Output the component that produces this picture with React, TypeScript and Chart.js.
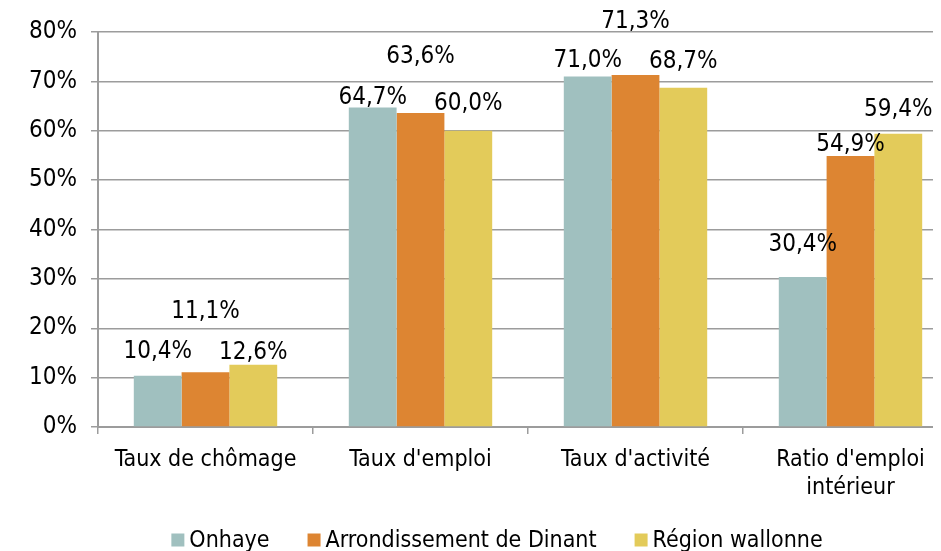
import React, { useEffect, useRef } from "react";
import { Chart, registerables } from "chart.js";

Chart.register(...registerables);

// ---- data ----
const categories: (string | string[])[] = [
  "Taux de chômage",
  "Taux d'emploi",
  "Taux d'activité",
  ["Ratio d'emploi", "intérieur"],
];
const seriesNames = ["Onhaye", "Arrondissement de Dinant", "Région wallonne"];
const onhaye = [10.4, 64.7, 71.0, 30.4];
const dinant = [11.1, 63.6, 71.3, 54.9];
const wallonie = [12.6, 60.0, 68.7, 59.4];
const yTickValues = [0, 10, 20, 30, 40, 50, 60, 70, 80];

// ---- style ----
const colors = ["#A0C0BF", "#DD8532", "#E3CB5A"];
// how far above each bar top the value label is centred (per series, per category)
const labelLift = [
  [24, 10, 16, 32],
  [60, 56, 53, 11],
  [12, 27, 26, 24],
];
const FONT = '"DejaVu Sans Condensed", "DejaVu Sans", sans-serif';
const TEXT = "#000000";
const GRID = "#9c9c9c";
const CANVAS_W = 960;
const CANVAS_H = 543;
const LEGEND_CX = 489;
const LEGEND_CY = 532;

const fmt = (v: number) => v.toFixed(1).replace(".", ",") + "%";

const valueLabelPlugin = {
  id: "valueLabels",
  afterDatasetsDraw(chart: any) {
    const ctx = chart.ctx;
    ctx.save();
    ctx.font = `24px ${FONT}`;
    ctx.fillStyle = TEXT;
    ctx.textAlign = "center";
    ctx.textBaseline = "middle";
    chart.data.datasets.forEach((ds: any, di: number) => {
      const meta = chart.getDatasetMeta(di);
      meta.data.forEach((el: any, i: number) => {
        ctx.fillText(fmt(ds.data[i]), el.x, el.y - labelLift[di][i]);
      });
    });
    ctx.restore();
  },
};

const legendPlugin = {
  id: "customLegend",
  afterDraw(chart: any) {
    const ctx = chart.ctx;
    ctx.save();
    ctx.font = `23px ${FONT}`;
    ctx.textBaseline = "middle";
    ctx.textAlign = "left";
    const box = 13;
    const gap = 5;
    const itemGap = 38;
    const widths = seriesNames.map((n) => ctx.measureText(n).width);
    const total =
      widths.reduce((a, w) => a + box + gap + w, 0) + itemGap * (seriesNames.length - 1);
    let x = LEGEND_CX - total / 2;
    seriesNames.forEach((n, i) => {
      ctx.fillStyle = colors[i];
      ctx.fillRect(x, LEGEND_CY - box / 2, box, box);
      ctx.fillStyle = TEXT;
      ctx.fillText(n, x + box + gap, LEGEND_CY + 1);
      x += box + gap + widths[i] + itemGap;
    });
    ctx.restore();
  },
};

export default function App() {
  const ref = useRef<HTMLCanvasElement>(null);

  useEffect(() => {
    document.documentElement.style.overflow = "hidden";
    document.body.style.overflow = "hidden";
    const canvas = ref.current;
    if (!canvas) return;
    const chart = new Chart(canvas, {
      type: "bar",
      data: {
        labels: categories as any,
        datasets: [onhaye, dinant, wallonie].map((d, i) => ({
          label: seriesNames[i],
          data: d,
          backgroundColor: colors[i],
          borderWidth: 0,
          barPercentage: 1,
          categoryPercentage: 0.667,
        })),
      },
      options: {
        responsive: false,
        animation: false,
        devicePixelRatio: 1,
        layout: { padding: { top: 24, left: 18, right: 10, bottom: 54 } },
        plugins: {
          legend: { display: false },
          tooltip: { enabled: false },
        },
        scales: {
          x: {
            offset: true,
            grid: {
              offset: true,
              drawOnChartArea: false,
              drawTicks: true,
              tickLength: 7,
              color: GRID,
              lineWidth: 1.5,
            },
            border: { display: true, color: GRID, width: 2 },
            ticks: {
              color: TEXT,
              padding: 12,
              maxRotation: 0,
              autoSkip: false,
              font: { family: FONT, size: 23, lineHeight: "28px" } as any,
            },
            afterFit(scale: any) {
              scale.height = 70;
              scale.paddingLeft = 0;
              scale.paddingRight = 0;
            },
          },
          y: {
            min: 0,
            max: 80,
            afterBuildTicks(scale: any) {
              scale.ticks = yTickValues.map((v) => ({ value: v }));
            },
            grid: {
              drawTicks: true,
              tickLength: 7,
              color: GRID,
              lineWidth: 1.5,
            },
            border: { display: true, color: GRID, width: 2 },
            ticks: {
              color: TEXT,
              padding: 14,
              font: { family: FONT, size: 24 },
              callback: (v: any) => `${v}%`,
            },
            afterFit(scale: any) {
              scale.width = 72;
              scale.paddingTop = 0;
              scale.paddingBottom = 0;
            },
          },
        },
      },
      plugins: [valueLabelPlugin, legendPlugin],
    });
    return () => chart.destroy();
  }, []);

  return (
    <div style={{ width: 933, height: CANVAS_H, overflow: "hidden", background: "#fff" }}>
      <canvas ref={ref} width={CANVAS_W} height={CANVAS_H} style={{ display: "block" }} />
    </div>
  );
}
